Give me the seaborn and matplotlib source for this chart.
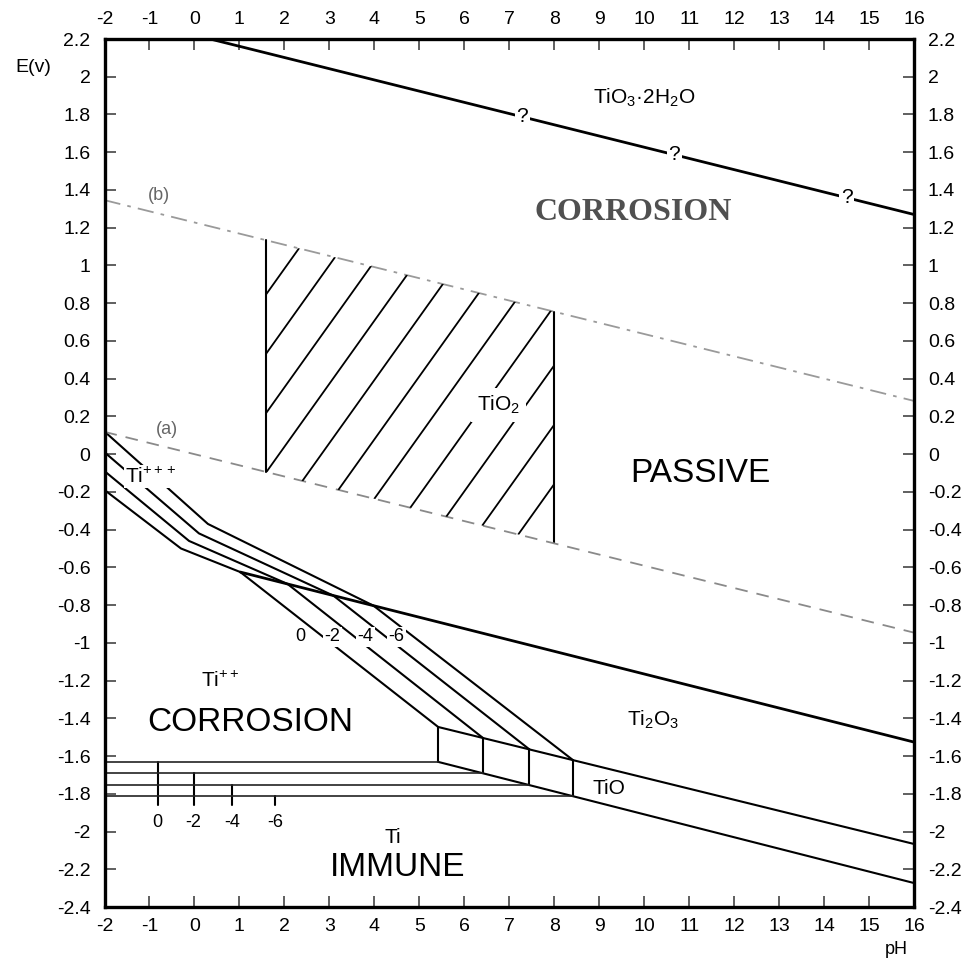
import numpy as np
import pandas as pd
import matplotlib
matplotlib.use("Agg")
import matplotlib.pyplot as plt
import seaborn as sns
from matplotlib.patches import Polygon

sns.set_theme(style="white")
plt.rcParams["font.family"] = ["Liberation Sans", "DejaVu Sans"]
plt.rcParams["mathtext.fontset"] = "custom"
plt.rcParams["mathtext.rm"] = "Liberation Sans"
plt.rcParams["mathtext.it"] = "Liberation Sans:italic"
plt.rcParams["mathtext.bf"] = "Liberation Sans:bold"
plt.rcParams["text.color"] = "black"
plt.rcParams["xtick.labelcolor"] = "black"
plt.rcParams["ytick.labelcolor"] = "black"

# ---------------- data ----------------
ph_ticks = [-2, -1, 0, 1, 2, 3, 4, 5, 6, 7, 8, 9, 10, 11, 12, 13, 14, 15, 16]
e_ticks = [2.2, 2.0, 1.8, 1.6, 1.4, 1.2, 1.0, 0.8, 0.6, 0.4, 0.2, 0.0,
           -0.2, -0.4, -0.6, -0.8, -1.0, -1.2, -1.4, -1.6, -1.8, -2.0, -2.2, -2.4]
e_tick_labels = ["2.2", "2", "1.8", "1.6", "1.4", "1.2", "1", "0.8", "0.6", "0.4", "0.2", "0",
                 "-0.2", "-0.4", "-0.6", "-0.8", "-1", "-1.2", "-1.4", "-1.6", "-1.8", "-2", "-2.2", "-2.4"]

top_line_pH = [0.35, 16.0]          # TiO3.2H2O boundary
top_line_E = [2.2, 1.27]
question_pH = [7.29, 10.67, 14.5]

o2_pH = [-2.0, 16.0]                 # line (b)
o2_E = [1.346, 0.282]
h2_pH = [-2.0, 16.0]                 # line (a)
h2_E = [0.118, -0.946]

tio2_pH = [1.6, 8.0]                 # hatched TiO2 domain limits

ti2o3_pH = [1.02, 16.0]              # upper Ti2O3 boundary
ti2o3_E = [-0.625, -1.526]
tio_top_pH = [5.42, 16.0]
tio_top_E = [-1.446, -2.066]
tio_bot_pH = [5.42, 16.0]
tio_bot_E = [-1.631, -2.273]

conc_labels = ["0", "-2", "-4", "-6"]
left_start_E = [-0.19, -0.09, 0.01, 0.12]
kink_pH = [-0.30, -0.12, 0.10, 0.30]
kink_E = [-0.50, -0.46, -0.42, -0.37]
meet_pH = [1.02, 2.07, 3.09, 3.98]
meet_E = [-0.625, -0.688, -0.750, -0.803]
block_pH = [5.42, 6.42, 7.45, 8.42]
block_top_E = [-1.446, -1.505, -1.565, -1.622]
block_bot_E = [-1.631, -1.692, -1.754, -1.813]
ti_mark_pH = [-0.82, -0.02, 0.84, 1.80]
ti_mark_bottom_E = -1.86
conc_label_E = -1.95
steep_label_pH = [2.36, 3.07, 3.80, 4.49]
steep_label_E = -0.969

# ---------------- figure ----------------
W, H = 977, 961
fig = plt.figure(figsize=(W / 100, H / 100), dpi=100)
ax = fig.add_axes([104.5 / W, 1 - 907 / H, (914 - 104.5) / W, (907 - 39) / H])
ax.set_xlim(-2, 16)
ax.set_ylim(-2.4, 2.2)

def seg_df(name, xs, ys):
    return pd.DataFrame({"pH": xs, "E": ys, "seg": name})

def h2(p):
    return np.interp(p, h2_pH, h2_E)

def o2(p):
    return np.interp(p, o2_pH, o2_E)

# thick main boundaries
thick = pd.concat([
    seg_df("top", top_line_pH, top_line_E),
    seg_df("ti2o3", ti2o3_pH, ti2o3_E),
], ignore_index=True)
sns.lineplot(data=thick, x="pH", y="E", units="seg", estimator=None, sort=False,
             color="black", linewidth=2.0, ax=ax, legend=False)

parts = [seg_df("tio_top", tio_top_pH, tio_top_E),
         seg_df("tio_bot", tio_bot_pH, tio_bot_E)]
for p in tio2_pH:
    parts.append(seg_df(f"v{p}", [p, p], [h2(p), o2(p)]))
for i in range(4):
    parts.append(seg_df(f"L{i}", [-2.0, kink_pH[i], meet_pH[i], block_pH[i]],
                        [left_start_E[i], kink_E[i], meet_E[i], block_top_E[i]]))
    parts.append(seg_df(f"B{i}", [block_pH[i], block_pH[i]], [block_bot_E[i], block_top_E[i]]))
    parts.append(seg_df(f"M{i}", [ti_mark_pH[i], ti_mark_pH[i]], [block_bot_E[i], ti_mark_bottom_E]))
medium = pd.concat(parts, ignore_index=True)
sns.lineplot(data=medium, x="pH", y="E", units="seg", estimator=None, sort=False,
             color="black", linewidth=1.5, ax=ax, legend=False)

horiz = pd.concat([seg_df(f"H{i}", [-2.0, block_pH[i]], [block_bot_E[i], block_bot_E[i]])
                   for i in range(4)], ignore_index=True)
sns.lineplot(data=horiz, x="pH", y="E", units="seg", estimator=None, sort=False,
             color="#222222", linewidth=1.2, ax=ax, legend=False)

# water lines
sns.lineplot(x=o2_pH, y=o2_E, color="#9a9a9a", linewidth=1.3, ax=ax,
             linestyle=(0, (9, 4, 2, 4)))
sns.lineplot(x=h2_pH, y=h2_E, color="#8a8a8a", linewidth=1.3, ax=ax,
             linestyle=(0, (7, 5)))

# hatching of the TiO2 domain
poly = Polygon([(tio2_pH[0], h2(tio2_pH[0])), (tio2_pH[0], o2(tio2_pH[0])),
                (tio2_pH[1], o2(tio2_pH[1])), (tio2_pH[1], h2(tio2_pH[1]))],
               closed=True, facecolor="none", edgecolor="none")
ax.add_patch(poly)
hatch_slope, hatch_step = 0.334, 0.8
for k in range(-3, 8):
    p0 = tio2_pH[0] + hatch_step * k
    xs = np.array([p0, p0 + 5])
    ys = h2(p0) + hatch_slope * (xs - p0)
    ln, = ax.plot(xs, ys, color="black", linewidth=1.3)
    ln.set_clip_path(poly)

# ---------------- texts ----------------
white = dict(facecolor="white", edgecolor="none", pad=1.0)
qE = np.interp(question_pH, top_line_pH, top_line_E)
for p, e in zip(question_pH, qE):
    ax.text(p, e, "?", fontsize=15, ha="center", va="center", bbox=white, zorder=5)

ax.text(9.99, 1.89, "TiO$_3$·2H$_2$O", fontsize=15, ha="center", va="center")
ax.text(9.76, 1.28, "CORROSION", fontsize=23, ha="center", va="center",
        family="Liberation Serif", weight="bold", color="#505050")
ax.text(-0.8, 1.37, "(b)", fontsize=13, ha="center", va="center", color="#666666")
ax.text(-0.62, 0.13, "(a)", fontsize=13, ha="center", va="center", color="#666666")
ax.text(6.76, 0.26, "TiO$_2$", fontsize=15, ha="center", va="center",
        bbox=dict(facecolor="white", edgecolor="none", pad=4), zorder=5)
ax.text(11.24, -0.10, "PASSIVE", fontsize=24, ha="center", va="center")
ax.text(-0.96, -0.12, "Ti$^{+++}$", fontsize=15, ha="center", va="center",
        bbox=white, zorder=5)
for p, lab in zip(steep_label_pH, conc_labels):
    ax.text(p, steep_label_E, lab, fontsize=13, ha="center", va="center",
            bbox=white, zorder=5)
ax.text(0.58, -1.20, "Ti$^{++}$", fontsize=15, ha="center", va="center")
ax.text(1.24, -1.42, "CORROSION", fontsize=24, ha="center", va="center")
ax.text(10.2, -1.41, "Ti$_2$O$_3$", fontsize=15, ha="center", va="center")
ax.text(9.22, -1.77, "TiO", fontsize=15, ha="center", va="center")
ax.text(4.42, -2.03, "Ti", fontsize=15, ha="center", va="center")
ax.text(4.51, -2.19, "IMMUNE", fontsize=24, ha="center", va="center")
for p, lab in zip(ti_mark_pH, conc_labels):
    ax.text(p, conc_label_E, lab, fontsize=13, ha="center", va="center")

fig.text(33 / W, 1 - 67 / H, "E(v)", fontsize=14, ha="center", va="center")
fig.text(896 / W, 1 - 950 / H, "pH", fontsize=13, ha="center", va="center")

# ---------------- axes styling ----------------
ax.set_xticks(ph_ticks)
ax.set_xticklabels([str(v) for v in ph_ticks])
ax.set_yticks(e_ticks)
ax.set_yticklabels(e_tick_labels)
ax.set_xlabel("")
ax.set_ylabel("")
ax.tick_params(axis="both", which="major", direction="in", length=8, width=1.2,
               color="#444444", labelcolor="black", labelsize=14, pad=8,
               top=True, right=True, bottom=True, left=True,
               labeltop=True, labelright=True, labelbottom=True, labelleft=True)
ax.tick_params(axis="y", pad=10)
for s in ax.spines.values():
    s.set_visible(True)
    s.set_color("black")
    s.set_linewidth(2.4)
ax.grid(False)
ax.set_facecolor("white")
fig.patch.set_facecolor("white")

fig.savefig("out.png", dpi=100, facecolor="white")
